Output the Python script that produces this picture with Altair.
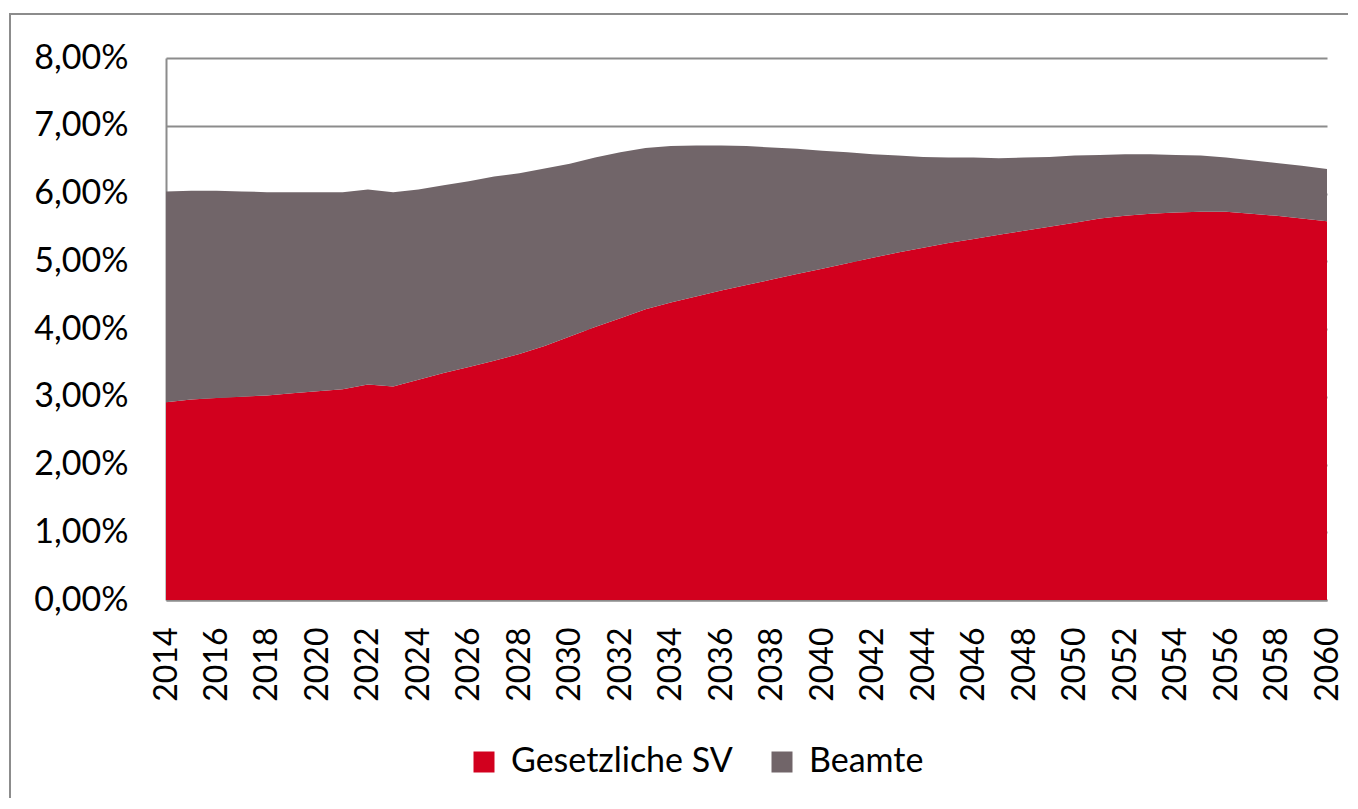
import altair as alt
import pandas as pd

years = list(range(2014, 2061))
gesetzliche_sv = [2.92, 2.96, 2.98, 3.00, 3.02, 3.05, 3.08, 3.11, 3.18, 3.15,
                  3.25, 3.35, 3.44, 3.53, 3.63, 3.75, 3.89, 4.03, 4.16, 4.29,
                  4.39, 4.48, 4.57, 4.65, 4.73, 4.81, 4.89, 4.97, 5.05, 5.13,
                  5.20, 5.27, 5.33, 5.39, 5.45, 5.51, 5.57, 5.63, 5.67, 5.70,
                  5.72, 5.73, 5.73, 5.70, 5.67, 5.63, 5.59]
beamte = [3.11, 3.08, 3.06, 3.03, 3.00, 2.97, 2.94, 2.91, 2.88, 2.87,
          2.81, 2.77, 2.74, 2.72, 2.67, 2.62, 2.55, 2.50, 2.45, 2.38,
          2.31, 2.23, 2.14, 2.05, 1.95, 1.85, 1.74, 1.64, 1.53, 1.43,
          1.34, 1.26, 1.20, 1.13, 1.08, 1.03, 0.99, 0.94, 0.91, 0.88,
          0.85, 0.83, 0.80, 0.79, 0.78, 0.78, 0.77]
series_names = ["Gesetzliche SV", "Beamte"]
series_colors = ["#D2001E", "#716569"]
x_ticks = list(range(2014, 2061, 2))
y_ticks = [0, 1, 2, 3, 4, 5, 6, 7, 8]

rows = []
for i, y in enumerate(years):
    rows.append({"Jahr": y, "Reihe": series_names[0], "Wert": gesetzliche_sv[i], "ord": 0})
    rows.append({"Jahr": y, "Reihe": series_names[1], "Wert": beamte[i], "ord": 1})
df = pd.DataFrame(rows)

FONT = "Lato"
GRID = "#8c8c8c"

border = alt.Chart(pd.DataFrame({"a": [0]})).mark_rect(
    fill=None, stroke=GRID, strokeWidth=2
).encode(
    x=alt.value(-156), x2=alt.value(1300),
    y=alt.value(-44), y2=alt.value(900)
)

area = alt.Chart(df).mark_area(interpolate="linear").encode(
    x=alt.X("Jahr:Q",
            scale=alt.Scale(domain=[2014, 2060], nice=False, zero=False),
            axis=alt.Axis(values=x_ticks, format="d", labelAngle=270,
                          labelFont=FONT, labelFontSize=32, labelColor="#000000",
                          ticks=False, tickSize=0, labelPadding=27,
                          domainColor=GRID, domainWidth=2, grid=False,
                          title=None, labelFlush=False, labelOverlap=False)),
    y=alt.Y("Wert:Q", stack="zero",
            scale=alt.Scale(domain=[0, 8], nice=False),
            axis=alt.Axis(values=y_ticks,
                          labelExpr="replace(format(datum.value, '.2f'), '.', ',') + '%'",
                          labelFont=FONT, labelFontSize=34, labelColor="#000000",
                          ticks=False, tickSize=0, labelPadding=38,
                          domainColor=GRID, domainWidth=2,
                          grid=True, gridColor=GRID, gridWidth=2,
                          title=None)),
    color=alt.Color("Reihe:N",
                    scale=alt.Scale(domain=series_names, range=series_colors),
                    legend=alt.Legend(orient="none", legendX=301, legendY=687,
                                      direction="horizontal", title=None,
                                      symbolType="square", symbolSize=441,
                                      symbolStrokeWidth=0, symbolOpacity=1,
                                      labelFont=FONT, labelFontSize=34,
                                      labelColor="#000000", labelOffset=10,
                                      labelLimit=0,
                                      columnPadding=32, padding=0)),
    order=alt.Order("ord:Q", sort="ascending")
)

chart = alt.layer(border, area).properties(
    width=1161, height=542,
    autosize=alt.AutoSizeParams(type="none"),
    padding={"left": 158, "top": 50, "right": 21, "bottom": 198},
    background="#ffffff"
).configure_view(stroke=None)

chart.save("out.html", embed_options={"renderer": "svg", "actions": False})
